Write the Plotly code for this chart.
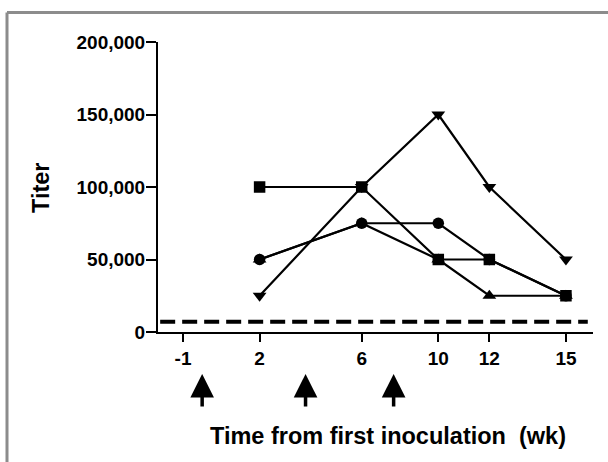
import plotly.graph_objects as go

# ---- data ----
week_labels = [-1, 2, 6, 10, 12, 15]
axis_pos = [0, 3, 7, 10, 12, 15]          # compressed time axis as drawn
weeks = [2, 6, 10, 12, 15]

titer_triangle_up = [50000, 75000, 50000, 25000, 25000]
titer_triangle_down = [25000, 100000, 150000, 100000, 50000]
titer_circle = [50000, 75000, 75000, 50000, 25000]
titer_square = [100000, 100000, 50000, 50000, 25000]

cutoff_titer = 7000
inoculation_pos = [0.75, 4.8, 8.25]
y_ticks = [0, 50000, 100000, 150000, 200000]

pos_of = dict(zip(week_labels, axis_pos))
xs = [pos_of[w] for w in weeks]

FONT = "Liberation Sans, Arial, Helvetica, sans-serif"

W, H = 608, 462
L, R, T, B = 158, 15, 42, 130
PW, PH = W - L - R, H - T - B


def px(X):
    return (X - L) / PW


def py(Y):
    return (H - B - Y) / PH


fig = go.Figure()
series = [
    (titer_triangle_up, "triangle-up", 12),
    (titer_triangle_down, "triangle-down", 12),
    (titer_circle, "circle", 11.5),
    (titer_square, "square", 11.5),
]
for vals, sym, sz in series:
    fig.add_trace(go.Scatter(
        x=xs, y=vals, mode="lines+markers",
        line=dict(color="black", width=2.2),
        marker=dict(symbol=sym, size=sz, color="black"),
        showlegend=False, cliponaxis=False,
    ))

# dashed cutoff line
fig.add_shape(type="line", xref="paper", yref="y",
              x0=0.005, x1=0.988, y0=cutoff_titer, y1=cutoff_titer,
              line=dict(color="black", width=4, dash="15px,7px"))

# inoculation arrows
for p in inoculation_pos:
    fig.add_annotation(x=p, xref="x", y=py(374), yref="paper",
                       ax=0, ay=34, showarrow=True, arrowhead=2,
                       arrowsize=1.35, arrowwidth=3.5, arrowcolor="black",
                       text="")

# axis titles as annotations
fig.add_annotation(x=px(388), y=py(436), xref="paper", yref="paper",
                   text="Time from first inoculation  (wk)", showarrow=False,
                   xanchor="center", yanchor="middle",
                   font=dict(family=FONT, size=23.5, color="black", weight="bold"))
fig.add_annotation(x=px(41), y=py(188), xref="paper", yref="paper",
                   text="Titer", showarrow=False, textangle=-90,
                   xanchor="center", yanchor="middle",
                   font=dict(family=FONT, size=23.5, color="black", weight="bold"))

# frame (top and left only visible)
fig.add_shape(type="line", xref="paper", yref="paper",
              x0=px(7), x1=px(620), y0=py(12.5), y1=py(12.5),
              line=dict(color="#8c8c8c", width=3))
fig.add_shape(type="line", xref="paper", yref="paper",
              x0=px(7), x1=px(7), y0=py(12.5), y1=py(480),
              line=dict(color="#8c8c8c", width=3))

fig.update_layout(
    width=W, height=H,
    margin=dict(l=L, r=R, t=T, b=B),
    paper_bgcolor="white", plot_bgcolor="white",
    font=dict(family=FONT, color="black"),
    xaxis=dict(
        range=[-0.98, 16.06], tickmode="array",
        tickvals=axis_pos, ticktext=[str(w) for w in week_labels],
        showgrid=False, zeroline=False, showline=True,
        linecolor="black", linewidth=2,
        ticks="outside", ticklen=8, tickwidth=2, tickcolor="black",
        tickfont=dict(family=FONT, size=19, color="black", weight="bold"),
        fixedrange=True,
    ),
    yaxis=dict(
        range=[0, 200000], tickmode="array", tickvals=y_ticks,
        ticktext=[f"{v:,}" for v in y_ticks],
        showgrid=False, zeroline=False, showline=True,
        linecolor="black", linewidth=2,
        ticks="outside", ticklen=10, tickwidth=2, tickcolor="black",
        ticklabelstandoff=-3,
        tickfont=dict(family=FONT, size=19, color="black", weight="bold"),
        fixedrange=True,
    ),
)

fig.write_html("out.html", config={"displayModeBar": False},
               post_script="document.body.style.margin='0';document.body.style.overflow='hidden';")
